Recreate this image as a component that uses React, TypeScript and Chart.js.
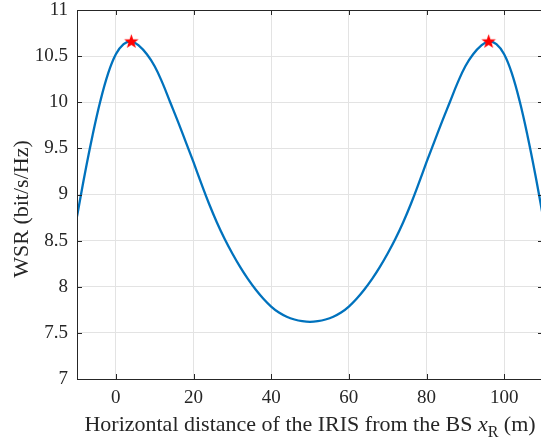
import React, { useEffect, useRef } from "react";
import { Chart, registerables } from "chart.js";

Chart.register(...registerables);

const xPositions = [
  -10, -8, -6, -4, -2, 0, 2, 4, 6, 8, 10, 12, 14, 16, 18, 20, 22, 24, 26, 28, 30,
  32, 34, 36, 38, 40, 42, 44, 46, 48, 50, 52, 54, 56, 58, 60, 62, 64, 66, 68, 70,
  72, 74, 76, 78, 80, 82, 84, 86, 88, 90, 92, 94, 96, 98, 100, 102, 104, 106, 108, 110,
];
const wsrValues = [
  8.76, 9.22, 9.64, 10.01, 10.31, 10.52, 10.63, 10.66, 10.61, 10.52, 10.39, 10.21, 10.0, 9.79, 9.57, 9.35, 9.12, 8.9, 8.7, 8.52, 8.36,
  8.215, 8.085, 7.97, 7.87, 7.785, 7.72, 7.675, 7.645, 7.627, 7.62, 7.627, 7.645, 7.675, 7.72, 7.785, 7.87, 7.97, 8.085, 8.215, 8.36,
  8.52, 8.7, 8.9, 9.12, 9.35, 9.57, 9.79, 10.0, 10.21, 10.39, 10.52, 10.61, 10.66, 10.63, 10.52, 10.31, 10.01, 9.64, 9.22, 8.76,
];
const peakX = [4, 96];
const peakY = [10.66, 10.66];
const xTicks = [0, 20, 40, 60, 80, 100];
const yTicks = [7, 7.5, 8, 8.5, 9, 9.5, 10, 10.5, 11];

const FONT = '"Liberation Serif", "Times New Roman", serif';
const TEXT = "#262626";

function makeStar(): HTMLCanvasElement {
  const c = document.createElement("canvas");
  c.width = 17;
  c.height = 17;
  const g = c.getContext("2d")!;
  const cx = 8.5, cy = 8.9, R = 7.6, r = 3.1;
  g.beginPath();
  for (let i = 0; i < 10; i++) {
    const rad = i % 2 === 0 ? R : r;
    const a = -Math.PI / 2 + (i * Math.PI) / 5;
    const px = cx + rad * Math.cos(a);
    const py = cy + rad * Math.sin(a);
    if (i === 0) g.moveTo(px, py);
    else g.lineTo(px, py);
  }
  g.closePath();
  g.fillStyle = "#ff0000";
  g.fill();
  return c;
}

const framePlugin = {
  id: "matlabFrame",
  afterDatasetsDraw(chart: any) {
    const { ctx, chartArea } = chart;
    const { left, right, top, bottom } = chartArea;
    const xs = chart.scales.x;
    const ys = chart.scales.y;
    ctx.save();
    ctx.strokeStyle = TEXT;
    ctx.lineWidth = 1;
    ctx.beginPath();
    ctx.rect(Math.round(left) + 0.5, Math.round(top) + 0.5, Math.round(right - left), Math.round(bottom - top));
    ctx.stroke();
    const tl = 5;
    ctx.beginPath();
    xTicks.forEach((v) => {
      const px = Math.round(xs.getPixelForValue(v)) + 0.5;
      ctx.moveTo(px, bottom);
      ctx.lineTo(px, bottom - tl);
      ctx.moveTo(px, top);
      ctx.lineTo(px, top + tl);
    });
    yTicks.forEach((v) => {
      const py = Math.round(ys.getPixelForValue(v)) + 0.5;
      ctx.moveTo(left, py);
      ctx.lineTo(left + tl, py);
      ctx.moveTo(right, py);
      ctx.lineTo(right - tl, py);
    });
    ctx.stroke();
    ctx.restore();
  },
  afterDraw(chart: any) {
    const { ctx, chartArea } = chart;
    ctx.save();
    ctx.fillStyle = TEXT;
    ctx.textBaseline = "alphabetic";
    const size = 22;
    const fReg = `${size}px ${FONT}`;
    const fIt = `italic ${size}px ${FONT}`;
    const fSub = `${Math.round(size * 0.72)}px ${FONT}`;
    const parts: [string, string, number][] = [
      ["Horizontal distance of the IRIS from the BS ", fReg, 0],
      ["x", fIt, 0],
      ["R", fSub, 6],
      [" (m)", fReg, 0],
    ];
    let total = 0;
    parts.forEach(([t, f]) => {
      ctx.font = f;
      total += ctx.measureText(t).width;
    });
    let cx = (chartArea.left + chartArea.right) / 2 - total / 2;
    const baseY = 431;
    parts.forEach(([t, f, dy]) => {
      ctx.font = f;
      ctx.textAlign = "left";
      ctx.fillText(t, cx, baseY + dy);
      cx += ctx.measureText(t).width;
    });
    ctx.translate(28, 209);
    ctx.rotate(-Math.PI / 2);
    ctx.font = fReg;
    ctx.textAlign = "center";
    ctx.fillText("WSR (bit/s/Hz)", 0, 0);
    ctx.restore();
  },
};

export default function App() {
  const ref = useRef<HTMLCanvasElement | null>(null);
  useEffect(() => {
    if (!ref.current) return;
    const star = makeStar();
    const chart = new Chart(ref.current, {
      type: "line",
      data: {
        datasets: [
          {
            data: peakX.map((x, i) => ({ x, y: peakY[i] })),
            showLine: false,
            pointStyle: star as any,
            pointRadius: 8,
            borderColor: "#ff0000",
            backgroundColor: "#ff0000",
            order: 0,
          },
          {
            data: xPositions.map((x, i) => ({ x, y: wsrValues[i] })),
            borderColor: "#0072BD",
            borderWidth: 2.3,
            pointRadius: 0,
            tension: 0.4,
            fill: false,
            order: 1,
          },
        ],
      },
      options: {
        animation: false,
        responsive: false,
        events: [],
        layout: { padding: { left: 0, right: 3, top: 10, bottom: 0 } },
        plugins: { legend: { display: false }, tooltip: { enabled: false } },
        scales: {
          x: {
            type: "linear",
            min: -10,
            max: 110,
            afterBuildTicks: (s: any) => {
              s.ticks = xTicks.map((v) => ({ value: v }));
            },
            afterFit: (s: any) => {
              s.height = 67;
              s.paddingLeft = 0;
              s.paddingRight = 0;
            },
            grid: { color: "#e3e3e3", drawTicks: false, lineWidth: 1 },
            border: { display: false },
            ticks: {
              padding: 10,
              color: TEXT,
              font: { family: FONT, size: 19, lineHeight: 1 },
              maxRotation: 0,
              autoSkip: false,
              callback: (v: any) => String(v),
            },
          },
          y: {
            type: "linear",
            min: 7,
            max: 11,
            afterBuildTicks: (s: any) => {
              s.ticks = yTicks.map((v) => ({ value: v }));
            },
            afterFit: (s: any) => {
              s.width = 77;
              s.paddingTop = 0;
              s.paddingBottom = 0;
            },
            grid: { color: "#e3e3e3", drawTicks: false, lineWidth: 1 },
            border: { display: false },
            ticks: {
              padding: 9,
              color: TEXT,
              font: { family: FONT, size: 19, lineHeight: 1 },
              autoSkip: false,
              callback: (v: any) => String(v),
            },
          },
        },
      },
      plugins: [framePlugin],
    });
    return () => chart.destroy();
  }, []);
  return (
    <div style={{ position: "fixed", left: 0, top: 0, width: 541, height: 446, overflow: "hidden", background: "#fff" }}>
      <canvas ref={ref} width={552} height={446} style={{ display: "block", width: 552, height: 446 }} />
    </div>
  );
}
